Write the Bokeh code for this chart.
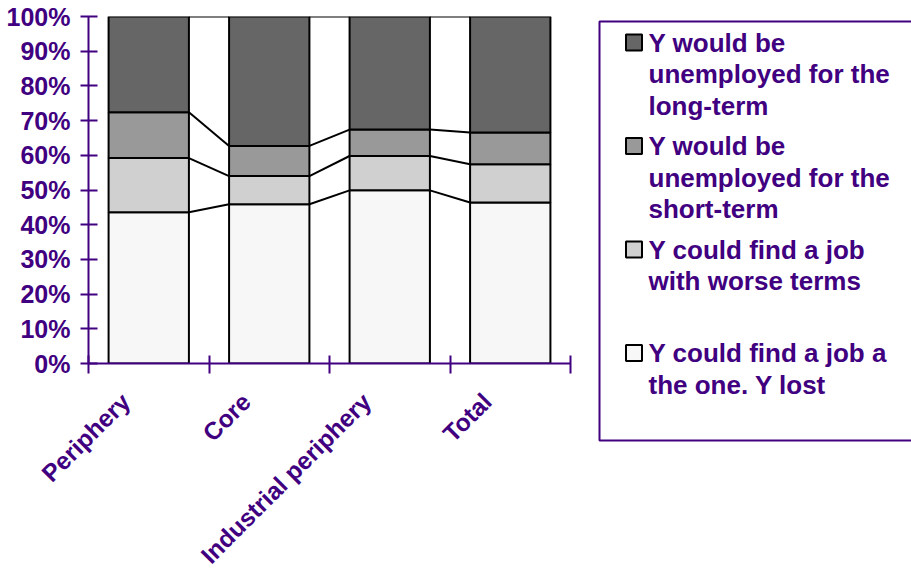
import numpy as np
from bokeh.plotting import figure
from bokeh.layouts import row
from bokeh.models import ColumnDataSource, Range1d, FixedTicker
from bokeh.embed import file_html
from bokeh.resources import INLINE
from bokeh.core.properties import value

# --- data (percent of respondents in each region) ---
categories = ["Periphery", "Core", "Industrial periphery", "Total"]
same_job = [43.6, 45.9, 49.9, 46.4]      # could find a job like the one lost
worse_job = [15.6, 8.1, 9.9, 11.0]       # could find a job with worse terms
short_term = [13.2, 8.7, 7.6, 9.2]       # unemployed for the short-term
long_term = [27.6, 37.3, 32.6, 33.4]     # unemployed for the long-term

y_ticks = [0, 10, 20, 30, 40, 50, 60, 70, 80, 90, 100]
y_tick_labels = ["0%", "10%", "20%", "30%", "40%", "50%",
                 "60%", "70%", "80%", "90%", "100%"]

legend_labels = [
    "Y would be\nunemployed for the\nlong-term",
    "Y would be\nunemployed for the\nshort-term",
    "Y could find a job\nwith worse terms",
    "Y could find a job a\nthe one. Y lost",
]

# --- styling ---
PURPLE = "#400080"
FONT = "Liberation Sans"
colors = ["#F7F7F7", "#D0D0D0", "#999999", "#666666"]  # bottom -> top
bar_width = 2 / 3
label_shift = 0.19   # category labels sit slightly left of the bar centre

n = len(categories)
xs = np.arange(n) + 0.5
src = ColumnDataSource(dict(x=xs, same=same_job, worse=worse_job,
                            short=short_term, long=long_term))

p = figure(width=590, height=583, x_range=Range1d(0, n), y_range=Range1d(0, 100),
           output_backend="svg", toolbar_location=None,
           min_border_left=88, min_border_right=20, min_border_top=16,
           min_border_bottom=220)
p.outline_line_color = None
p.xgrid.visible = False
p.ygrid.visible = False
p.background_fill_color = "white"

p.vbar_stack(["same", "worse", "short", "long"], x="x", width=bar_width,
             fill_color=colors, line_color="black", line_width=2, source=src)

# series lines joining the stacked levels of neighbouring bars
levels = np.cumsum(np.array([same_job, worse_job, short_term, long_term]), axis=0)
x0, y0, x1, y1 = [], [], [], []
for lev in levels:
    for i in range(n - 1):
        x0.append(xs[i] + bar_width / 2)
        y0.append(lev[i])
        x1.append(xs[i + 1] - bar_width / 2)
        y1.append(lev[i + 1])
p.segment(x0=x0, y0=y0, x1=x1, y1=y1, line_color="black", line_width=2)

# y axis
ya = p.yaxis[0]
ya.ticker = FixedTicker(ticks=y_ticks, minor_ticks=[])
ya.major_label_overrides = {t: s for t, s in zip(y_ticks, y_tick_labels)}
ya.axis_line_color = PURPLE
ya.axis_line_width = 2
ya.major_tick_line_color = PURPLE
ya.major_tick_line_width = 2
ya.major_tick_in = 9
ya.major_tick_out = 8
ya.major_label_standoff = 10
ya.major_label_text_font = FONT
ya.major_label_text_font_style = "bold"
ya.major_label_text_font_size = "25px"
ya.major_label_text_color = PURPLE

# x axis: tick marks between categories, labels under each bar
label_pos = [round(float(x - label_shift), 3) for x in xs]
xa = p.xaxis[0]
xa.ticker = FixedTicker(ticks=label_pos, minor_ticks=list(np.arange(n + 1)))
xa.major_label_overrides = {x: c for x, c in zip(label_pos, categories)}
xa.axis_line_color = PURPLE
xa.axis_line_width = 2
xa.major_tick_line_color = None
xa.major_tick_in = 0
xa.major_tick_out = 0
xa.minor_tick_line_color = PURPLE
xa.minor_tick_line_width = 2
xa.minor_tick_in = 8
xa.minor_tick_out = 10
xa.major_label_orientation = np.pi / 4
xa.major_label_standoff = 24
xa.major_label_text_font = FONT
xa.major_label_text_font_style = "bold"
xa.major_label_text_font_size = "24.5px"
xa.major_label_text_color = PURPLE

# legend panel; its frame shares the plot's top/bottom, so the y range is
# set to run in page pixels over that frame
lg = figure(width=321, height=583, x_range=Range1d(0, 321), y_range=Range1d(363, 16),
            output_backend="svg", toolbar_location=None,
            x_axis_location=None, y_axis_location=None,
            min_border=0)
lg.outline_line_color = None
lg.xgrid.visible = False
lg.ygrid.visible = False

lg.quad(left=9, right=335, top=21, bottom=440, fill_color=None,
        line_color=PURPLE, line_width=2, level="overlay")

entry_y = 42 + 103.5 * np.arange(len(legend_labels))
swatch_colors = colors[::-1]
lg.rect(x=43.5, y=entry_y, width=16, height=16, fill_color=swatch_colors,
        line_color="black", line_width=2, level="overlay")

tx, ty, tt = [], [], []
for ey, lab in zip(entry_y, legend_labels):
    for k, line in enumerate(lab.split("\n")):
        tx.append(58)
        ty.append(ey + k * 31.5)
        tt.append(line)
lg.text(x=tx, y=ty, text=tt, text_font=value(FONT), text_font_style="bold",
        text_font_size="26px", text_color=PURPLE, text_baseline="middle",
        text_align="left", level="overlay")

layout = row(p, lg)
open("out.html", "w").write(file_html(layout, INLINE))
